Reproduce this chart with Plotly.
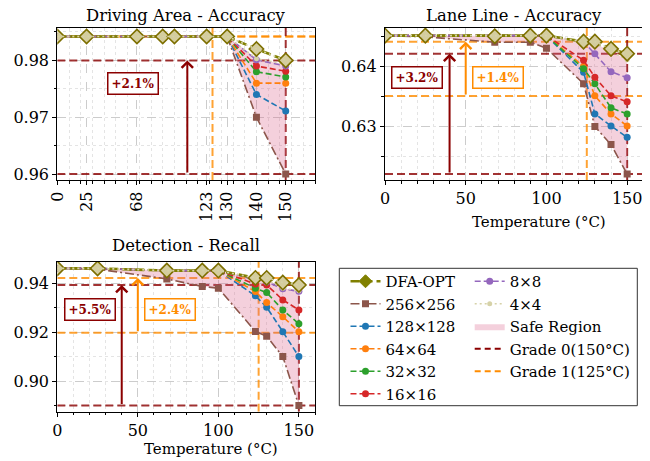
import numpy as np
import plotly.graph_objects as go

# ---------------- data ----------------
TEMPS = [0, 25, 68, 90, 100, 123, 130, 140, 150]
DA_TICKS = [0, 25, 68, 123, 130, 140, 150]
STD_TICKS = [0, 50, 100, 150]

# Driving Area - Accuracy
DA_DFA = [0.9842, 0.9842, 0.9842, 0.9842, 0.9842, 0.9842, 0.9842, 0.9820, 0.9800]
DA_256 = [0.9842, 0.9842, 0.9842, 0.9842, 0.9842, 0.9842, 0.9842, 0.9700, 0.9600]
DA_128 = [0.9842, 0.9842, 0.9842, 0.9842, 0.9842, 0.9842, 0.9842, 0.9740, 0.9711]
DA_64 = [0.9842, 0.9842, 0.9842, 0.9842, 0.9842, 0.9842, 0.9842, 0.9760, 0.9760]
DA_32 = [0.9842, 0.9842, 0.9842, 0.9842, 0.9842, 0.9842, 0.9842, 0.9780, 0.9771]
DA_16 = [0.9842, 0.9842, 0.9842, 0.9842, 0.9842, 0.9842, 0.9842, 0.9790, 0.9781]
DA_8 = [0.9842, 0.9842, 0.9842, 0.9842, 0.9842, 0.9842, 0.9842, 0.9801, 0.9790]
DA_4 = [0.9842, 0.9842, 0.9842, 0.9842, 0.9842, 0.9842, 0.9842, 0.9803, 0.9793]

# Lane Line - Accuracy
LL_DFA = [0.6451, 0.6451, 0.6450, 0.6451, 0.6451, 0.6441, 0.6441, 0.6429, 0.6421]
LL_256 = [0.6451, 0.6449, 0.6440, 0.6440, 0.6430, 0.6371, 0.6300, 0.6270, 0.6221]
LL_128 = [0.6451, 0.6451, 0.6450, 0.6451, 0.6451, 0.6390, 0.6321, 0.6301, 0.6282]
LL_64 = [0.6451, 0.6451, 0.6450, 0.6451, 0.6451, 0.6400, 0.6351, 0.6321, 0.6301]
LL_32 = [0.6451, 0.6451, 0.6450, 0.6451, 0.6451, 0.6396, 0.6371, 0.6331, 0.6321]
LL_16 = [0.6451, 0.6451, 0.6450, 0.6451, 0.6451, 0.6410, 0.6382, 0.6351, 0.6341]
LL_8 = [0.6451, 0.6451, 0.6450, 0.6451, 0.6451, 0.6441, 0.6421, 0.6391, 0.6381]
LL_4 = [0.6451, 0.6451, 0.6450, 0.6451, 0.6451, 0.6441, 0.6438, 0.6425, 0.6411]

# Detection - Recall
DT_DFA = [0.9461, 0.9461, 0.9452, 0.9452, 0.9452, 0.9422, 0.9422, 0.9403, 0.9393]
DT_256 = [0.9461, 0.9458, 0.9418, 0.9387, 0.9380, 0.9203, 0.9183, 0.9100, 0.8900]
DT_128 = [0.9461, 0.9461, 0.9452, 0.9452, 0.9452, 0.9349, 0.9302, 0.9202, 0.9100]
DT_64 = [0.9461, 0.9461, 0.9452, 0.9452, 0.9452, 0.9366, 0.9321, 0.9263, 0.9202]
DT_32 = [0.9461, 0.9461, 0.9452, 0.9452, 0.9452, 0.9380, 0.9362, 0.9291, 0.9234]
DT_16 = [0.9461, 0.9461, 0.9452, 0.9452, 0.9452, 0.9397, 0.9393, 0.9332, 0.9291]
DT_8 = [0.9461, 0.9461, 0.9452, 0.9452, 0.9452, 0.9415, 0.9405, 0.9378, 0.9367]
DT_4 = [0.9461, 0.9461, 0.9452, 0.9452, 0.9452, 0.9420, 0.9416, 0.9380, 0.9369]

SERIES_NAMES = ["256×256", "128×128", "64×64", "32×32", "16×16", "8×8", "4×4"]
GRADE0_T = 150
GRADE1_T = 125
X_MAX = 160

# ---------------- style / layout helpers ----------------
FONT = "DejaVu Serif"
DARKRED = "#8b0000"
DARKORANGE = "#ff8c00"
GRADE0_C = "rgba(139,0,0,0.8)"
GRADE1_C = "rgba(255,140,0,0.8)"
PINK = "rgba(220,100,140,0.30)"
OLIVE = "#808000"
STYLES = {
    "256×256": dict(color="#8c564b", dash="9px,3px,2px,3px", symbol="square", size=7),
    "128×128": dict(color="#1f77b4", dash="6px,3px", symbol="circle", size=7),
    "64×64": dict(color="#ff7f0e", dash="6px,3px", symbol="circle", size=7),
    "32×32": dict(color="#2ca02c", dash="6px,3px", symbol="circle", size=7),
    "16×16": dict(color="#d62728", dash="6px,3px", symbol="circle", size=7),
    "8×8": dict(color="#9467bd", dash="6px,3px", symbol="circle", size=7),
    "4×4": dict(color="#d6d2a8", dash="2px,3px", symbol="circle", size=5),
}

# the page body adds an 8px margin; lay out in window pixels
OFF = 8
FW = 650 - OFF
FH = 461 - OFF


def px(p):
    return (p - OFF) / FW


def py(p):
    return 1 - (p - OFF) / FH


def warp_da(t):
    t = np.asarray(t, dtype=float)
    return np.where(t <= 120, t, 120 + 2.5 * (t - 120))


def ident(t):
    return np.asarray(t, dtype=float)


PANELS = [
    dict(title="Driving Area - Accuracy", xa="x", ya="y", warp=warp_da,
         dfa=DA_DFA, base=[DA_256, DA_128, DA_64, DA_32, DA_16, DA_8, DA_4],
         xdom=[px(57.3), px(315)], ydom=[py(180), py(27.5)], yr=[0.95895, 0.98579],
         ytick=[0.96, 0.97, 0.98], ydt=0.005, xticks=DA_TICKS, rot=True,
         arrows=[111, None], labels_x=[65, None], title_y=py(15.6), xt_y=None),
    dict(title="Lane Line - Accuracy", xa="x2", ya="y2", warp=ident,
         dfa=LL_DFA, base=[LL_256, LL_128, LL_64, LL_32, LL_16, LL_8, LL_4],
         xdom=[px(385), px(643.3)], ydom=[py(180), py(27.5)], yr=[0.62112, 0.64645],
         ytick=[0.63, 0.64], ydt=0.005, xticks=STD_TICKS, rot=False,
         arrows=[40, 50], labels_x=[20, 70], title_y=py(15.6), xt_y=py(221.5)),
    dict(title="Detection - Recall", xa="x3", ya="y3", warp=ident,
         dfa=DT_DFA, base=[DT_256, DT_128, DT_64, DT_32, DT_16, DT_8, DT_4],
         xdom=[px(57.3), px(315)], ydom=[py(411.7), py(261.7)], yr=[0.88744, 0.94884],
         ytick=[0.90, 0.92, 0.94], ydt=0.01, xticks=STD_TICKS, rot=False,
         arrows=[40, 50], labels_x=[20, 70], title_y=py(245), xt_y=py(449)),
]

fig = go.Figure()
shapes = []
annotations = []

for pi, P in enumerate(PANELS):
    W = P["warp"]
    xs = W(TEMPS)
    xmax = float(W([X_MAX])[0])
    first = pi == 0
    base = [np.asarray(b) for b in P["base"]]
    upper = np.max(np.vstack(base), axis=0)

    # grade lines (values taken from the data), drawn under the series
    dfa = np.asarray(P["dfa"])
    hi0 = float(np.interp(GRADE0_T, TEMPS, dfa))
    lo0 = float(np.interp(GRADE0_T, TEMPS, base[0]))
    hi1 = float(np.interp(GRADE1_T, TEMPS, dfa))
    lo1 = float(np.interp(GRADE1_T, TEMPS, base[0]))
    gl = dict(mode="lines", showlegend=False, hoverinfo="skip", xaxis=P["xa"], yaxis=P["ya"])
    for yv, c in [(hi1, GRADE1_C), (lo1, GRADE1_C), (hi0, GRADE0_C), (lo0, GRADE0_C)]:
        fig.add_trace(go.Scatter(x=[0, xmax], y=[yv, yv],
                                 line=dict(color=c, width=2, dash="8px,4px"), **gl))
    for tv, c in [(GRADE1_T, GRADE1_C), (GRADE0_T, GRADE0_C)]:
        xv = float(W([tv])[0])
        fig.add_trace(go.Scatter(x=[xv, xv], y=P["yr"],
                                 line=dict(color=c, width=2, dash="8px,4px"), **gl))

    # safe region
    fig.add_trace(go.Scatter(x=xs, y=base[0], mode="lines", line=dict(width=0),
                             showlegend=False, hoverinfo="skip", xaxis=P["xa"], yaxis=P["ya"]))
    fig.add_trace(go.Scatter(x=xs, y=upper, mode="lines", line=dict(width=0), fill="tonexty",
                             fillcolor=PINK, name="Safe Region", legend="legend2",
                             legendrank=3, showlegend=first, hoverinfo="skip",
                             xaxis=P["xa"], yaxis=P["ya"]))
    for k, (name, vals) in enumerate(zip(SERIES_NAMES, base)):
        s = STYLES[name]
        leg = "legend" if k < 5 else "legend2"
        rank = k + 2 if k < 5 else k - 4
        fig.add_trace(go.Scatter(
            x=xs, y=vals, mode="lines+markers", name=name, legend=leg, legendrank=rank,
            showlegend=first, xaxis=P["xa"], yaxis=P["ya"],
            line=dict(color=s["color"], dash=s["dash"], width=1.6),
            marker=dict(color=s["color"], symbol=s["symbol"], size=s["size"])))
    fig.add_trace(go.Scatter(
        x=xs, y=P["dfa"], mode="lines+markers", name="DFA-OPT", showlegend=False,
        xaxis=P["xa"], yaxis=P["ya"],
        line=dict(color=OLIVE, dash="9px,4px", width=2.6),
        marker=dict(symbol="diamond", size=11, color="#d4cd9e",
                    line=dict(color="#7d6f00", width=1.6))))
    s4 = STYLES["4×4"]
    fig.add_trace(go.Scatter(x=xs, y=P["dfa"], mode="lines", showlegend=False, hoverinfo="skip",
                             line=dict(color=s4["color"], dash="2px,3px", width=1.6),
                             xaxis=P["xa"], yaxis=P["ya"]))

    lab_y = lo0 + 0.8 * (hi0 - lo0)
    for gi, (hi, lo, col) in enumerate([(hi0, lo0, DARKRED), (hi1, lo1, DARKORANGE)]):
        ax_x = P["arrows"][gi]
        pct = (hi / lo - 1) * 100
        if ax_x is None or abs(pct) < 0.05:
            continue
        axw = float(W([ax_x])[0])
        annotations.append(dict(x=axw, y=hi, ax=axw, ay=lo, xref=P["xa"], yref=P["ya"],
                                axref=P["xa"], ayref=P["ya"], showarrow=True, text="",
                                arrowhead=4, arrowsize=1.1, arrowwidth=2, arrowcolor=col))
        annotations.append(dict(x=float(W([P["labels_x"][gi]])[0]), y=lab_y, xref=P["xa"],
                                yref=P["ya"], text=f"<b>+{pct:.1f}%</b>", showarrow=False,
                                font=dict(family=FONT, size=12, color=col), bgcolor="white",
                                bordercolor=col, borderwidth=1.5, borderpad=3))

    annotations.append(dict(x=(P["xdom"][0] + P["xdom"][1]) / 2, y=P["title_y"],
                            xref="paper", yref="paper", text=P["title"], showarrow=False,
                            xanchor="center", yanchor="middle",
                            font=dict(family=FONT, size=16.4, color="black")))
    if P["xt_y"] is not None:
        annotations.append(dict(x=P["xdom"][0] + 0.596 * (P["xdom"][1] - P["xdom"][0]),
                                y=P["xt_y"], xref="paper", yref="paper",
                                text="Temperature (°C)", showarrow=False,
                                xanchor="center", yanchor="middle",
                                font=dict(family=FONT, size=15, color="black")))

# legend-only entries
fig.add_trace(go.Scatter(x=[None], y=[None], mode="lines+markers", name="DFA-OPT",
                         legend="legend", legendrank=1,
                         line=dict(color=OLIVE, dash="9px,4px", width=2.6),
                         marker=dict(symbol="diamond", size=10, color=OLIVE,
                                     line=dict(color=OLIVE, width=1))))
for name, c, rk in [("Grade 0(150°C)", DARKRED, 4), ("Grade 1(125°C)", DARKORANGE, 5)]:
    fig.add_trace(go.Scatter(x=[None], y=[None], mode="lines", name=name, legend="legend2",
                             legendrank=rk, line=dict(color=c, width=2, dash="6px,4px")))

axis_common = dict(showline=True, linecolor="black", linewidth=1.2, mirror=True,
                   ticks="outside", ticklen=4, tickwidth=1, tickcolor="black",
                   showgrid=True, gridcolor="#cccccc", gridwidth=0.8, griddash="dash",
                   zeroline=False, tickfont=dict(family=FONT, size=16, color="black"),
                   automargin=False)

layout = {}
for i, P in enumerate(PANELS):
    sfx = "" if i == 0 else str(i + 1)
    W = P["warp"]
    xr = [0, float(W([X_MAX])[0])]
    layout["xaxis" + sfx] = dict(axis_common, domain=P["xdom"], range=xr, anchor=P["ya"],
                                 tickmode="array", tickvals=[float(v) for v in W(P["xticks"])],
                                 ticktext=[str(v) for v in P["xticks"]],
                                 tickangle=-90 if P["rot"] else 0,
                                 minor=dict(ticks="outside", ticklen=2.5, tickcolor="black",
                                            dtick=10, tick0=0, showgrid=True,
                                            gridcolor="#e4e4e4", griddash="dot", gridwidth=0.8))
    layout["yaxis" + sfx] = dict(axis_common, domain=P["ydom"], range=P["yr"], anchor=P["xa"],
                                 tickmode="array", tickvals=P["ytick"], tickformat=".2f",
                                 minor=dict(ticks="outside", ticklen=2.5, tickcolor="black",
                                            dtick=P["ydt"], tick0=0, showgrid=True,
                                            gridcolor="#e4e4e4", griddash="dot", gridwidth=0.8))

# legend frame
shapes.append(dict(type="rect", xref="paper", yref="paper", x0=px(339.3), x1=px(637.3),
                   y0=py(405.7), y1=py(268.3),
                   line=dict(color="#333333", width=1), fillcolor="rgba(0,0,0,0)", layer="above"))

leg_common = dict(bgcolor="rgba(0,0,0,0)", borderwidth=0, orientation="v",
                  traceorder="normal",
                  font=dict(family=FONT, size=15, color="black"), xanchor="left",
                  yanchor="top", tracegroupgap=0, itemwidth=30)

fig.update_layout(
    width=FW, height=FH, margin=dict(l=0, r=0, t=0, b=0),
    paper_bgcolor="white", plot_bgcolor="white",
    font=dict(family=FONT, size=15, color="black"),
    shapes=shapes, annotations=annotations,
    legend=dict(leg_common, x=px(345.5), y=py(265)),
    legend2=dict(leg_common, x=px(469.7), y=py(265)),
    **layout,
)

fig.write_html("out.html")
